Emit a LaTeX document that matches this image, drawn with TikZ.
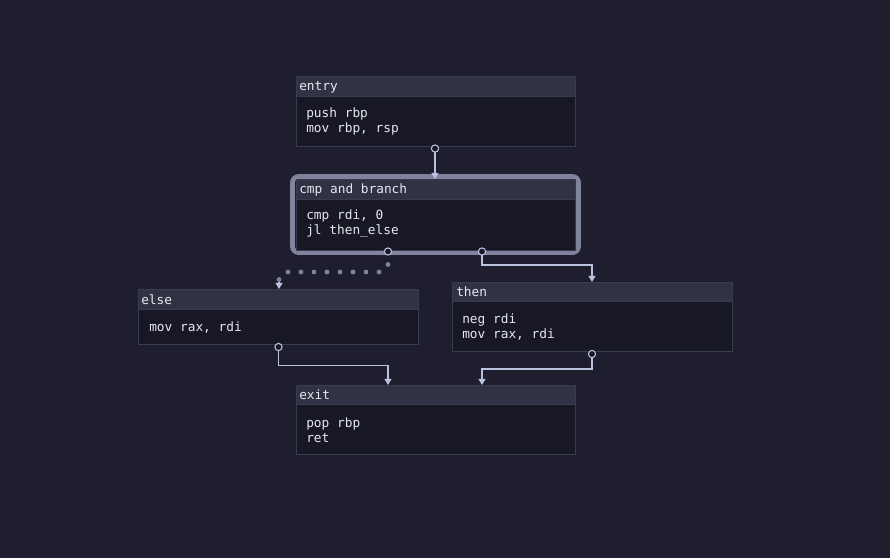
\documentclass[tikz,border=0pt]{standalone}
\usepackage{fontspec}
\setmonofont{DejaVu Sans Mono}
\usetikzlibrary{arrows.meta}
\definecolor{bg}{HTML}{1E1E2E}
\definecolor{hdr}{HTML}{313244}
\definecolor{bodyc}{HTML}{181825}
\definecolor{bord}{HTML}{3A3B50}
\definecolor{hil}{HTML}{7F849C}
\definecolor{edgec}{HTML}{BAC2DE}
\definecolor{txt}{HTML}{E6E8F0}
\tikzset{
  blockbody/.style={rectangle, fill=bodyc, draw=bord, line width=0.75pt, anchor=north west, inner sep=0pt},
  blockhdr/.style={rectangle, fill=hdr, draw=bord, line width=0.75pt, anchor=north west, inner sep=0pt, minimum height=15pt},
  htxt/.style={anchor=west, inner sep=0pt, text=txt, font=\ttfamily\fontsize{9.6pt}{11.25pt}\selectfont},
  codetxt/.style={anchor=west, inner sep=0pt, align=left, text=txt, font=\ttfamily\fontsize{9.6pt}{11.25pt}\selectfont},
  port/.style={circle, fill=bodyc, draw=edgec, line width=0.8pt, minimum size=5.4pt, inner sep=0pt},
  flow/.style={draw=edgec, line width=0.9pt, -{Triangle[width=5.2pt,length=4.6pt]}},
  dotflow/.style={draw=hil, line width=3.6pt, line cap=round, dash pattern=on 0pt off 9.75pt, rounded corners=6pt},
  tipflow/.style={draw=edgec, line width=0.9pt, -{Triangle[width=5.2pt,length=4.6pt]}},
  hilite/.style={draw=hil, line width=3.6pt, rounded corners=4.5pt},
}
\begin{document}
\begin{tikzpicture}[x=0.75pt,y=-0.75pt]
\useasboundingbox[fill=bg] (0,0) rectangle (890,558);

% highlight around cmp block
\draw[hilite] (292.5,176.5) rectangle (578.5,252.5);

% entry
\node[blockbody, minimum width=209.25pt, minimum height=52.5pt] (entry) at (296,76) {};
\node[blockhdr, minimum width=209.25pt] (entryH) at (296,76) {};
\node[htxt] (entryT) at (299,87) {entry};
\node[codetxt] (entryC) at (306,121) {push rbp\\mov rbp, rsp};

% cmp and branch
\node[blockbody, minimum width=209.25pt, minimum height=53.25pt] (cmp) at (296,179) {};
\node[blockhdr, minimum width=209.25pt] (cmpH) at (296,179) {};
\node[htxt] (cmpT) at (299,189.5) {cmp and branch};
\node[codetxt] (cmpC) at (306,224) {cmp rdi, 0\\jl then\_else};

% else
\node[blockbody, minimum width=210pt, minimum height=41.25pt] (else) at (138,289) {};
\node[blockhdr, minimum width=210pt] (elseH) at (138,289) {};
\node[htxt] (elseT) at (141,299.5) {else};
\node[codetxt] (elseC) at (149,328) {mov rax, rdi};

% then
\node[blockbody, minimum width=210pt, minimum height=51.75pt] (then) at (452,282) {};
\node[blockhdr, minimum width=210pt, minimum height=14.25pt] (thenH) at (452,282) {};
\node[htxt] (thenT) at (456,292) {then};
\node[codetxt] (thenC) at (462,327.5) {neg rdi\\mov rax, rdi};

% exit
\node[blockbody, minimum width=209.25pt, minimum height=51.75pt] (exit) at (296,385) {};
\node[blockhdr, minimum width=209.25pt, minimum height=14.25pt] (exitH) at (296,385) {};
\node[htxt] (exitT) at (299,395) {exit};
\node[codetxt] (exitC) at (306,430) {pop rbp\\ret};

% ports
\coordinate (pEntry) at (435,148.5);
\coordinate (pCmpL) at (388,251.5);
\coordinate (pCmpR) at (482,251.5);
\coordinate (pElse) at (278.5,347);
\coordinate (pThen) at (592,354);
\coordinate (inElse) at (279,289);
\coordinate (dotEnd) at (279,282);
\coordinate (inThen) at (592,282);
\coordinate (inExitL) at (388,385);
\coordinate (inExitR) at (482,385);
\coordinate (inCmp) at (435,179);

% connectors
\draw[flow] (pEntry) -- (inCmp);
\draw[flow] (pCmpR) |- (592,265) -- (inThen);
\draw[flow] (pElse) |- (388,365.5) -- (inExitL);
\draw[flow] (pThen) |- (482,369) -- (inExitR);
\draw[dotflow] (pCmpL) -- (388,272) -- (279,272) -- (279,282);
\draw[tipflow] (dotEnd) -- (inElse);

\node[port] (cEntry) at (pEntry) {};
\node[port] (cCmpL) at (pCmpL) {};
\node[port] (cCmpR) at (pCmpR) {};
\node[port] (cElse) at (pElse) {};
\node[port] (cThen) at (pThen) {};
\end{tikzpicture}
\end{document}
